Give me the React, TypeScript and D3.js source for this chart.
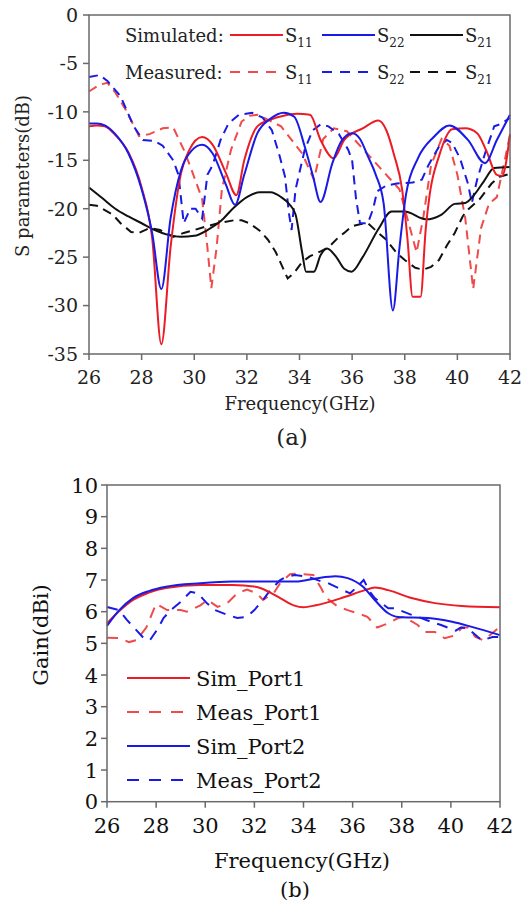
import React from "react";
import * as d3 from "d3";

type P = [number, number];

const freqTicks = [26, 28, 30, 32, 34, 36, 38, 40, 42];
const sParamTicks = [0, -5, -10, -15, -20, -25, -30, -35];
const gainTicks = [0, 1, 2, 3, 4, 5, 6, 7, 8, 9, 10];

// (a) S parameters, [GHz, dB]
const simS11: P[] = [
  [26, -11.5], [26.3, -11.4], [26.6, -11.5], [27.0, -12.4], [27.5, -14.2], [28.0, -17.8], [28.4, -23],
  [28.75, -34], [29.1, -24], [29.5, -16.3], [29.8, -14], [30.3, -12.6], [30.7, -13.4], [31.2, -16.3],
  [31.6, -18.6], [31.9, -15], [32.4, -11.5], [32.9, -10.8], [33.4, -10.4], [33.9, -10.2], [34.4, -10.3],
  [34.8, -12.9], [35.3, -14.8], [35.7, -12.9], [36.4, -11.7], [37.0, -10.9], [37.3, -11.9], [37.6, -14.5],
  [37.9, -18], [38.1, -23], [38.3, -29.1], [38.6, -29.1], [38.8, -22], [38.95, -18.5], [39.3, -14.6],
  [39.8, -11.8], [40.3, -11.7], [40.75, -12.2], [41.1, -14], [41.5, -16.5], [41.7, -16.6], [42, -12.3],
];
const simS22: P[] = [
  [26, -11.2], [26.3, -11.2], [26.6, -11.4], [27.0, -12.3], [27.5, -14.3], [28.0, -18], [28.4, -22.5],
  [28.75, -28.3], [29.1, -21], [29.5, -16], [29.9, -14], [30.3, -13.4], [30.7, -14.3], [31.2, -17.5],
  [31.55, -19.6], [31.9, -16.5], [32.4, -12.2], [32.9, -10.7], [33.4, -10.1], [33.8, -10.5], [34.2, -13.6],
  [34.5, -16.5], [34.8, -19.3], [35.25, -15.3], [35.6, -13], [36.0, -12.2], [36.3, -12.8], [36.6, -14.6],
  [36.9, -16.5], [37.2, -19.5], [37.55, -30.5], [37.8, -24], [38.05, -18.5], [38.5, -14.8], [39.1, -12.6],
  [39.7, -11.4], [40.4, -12.9], [41.05, -15.3], [41.5, -12.9], [42, -10.3],
];
const simS21: P[] = [
  [26, -17.8], [26.5, -18.9], [27, -20], [27.5, -20.8], [28, -21.5], [28.5, -22.2], [29, -22.7],
  [29.5, -22.9], [30, -22.8], [30.5, -22.2], [31, -21.3], [31.5, -19.9], [32, -18.8], [32.5, -18.3],
  [32.9, -18.3], [33.3, -18.8], [33.6, -19.5], [33.85, -20.6], [34.1, -24.5], [34.25, -26.5], [34.55, -26.5],
  [34.8, -24.8], [35.05, -24.1], [35.4, -25], [35.7, -26.2], [35.98, -26.5], [36.4, -25], [37.0, -22.1],
  [37.5, -20.3], [38.0, -20.3], [38.8, -21.1], [39.4, -20.6], [39.9, -19.5], [40.3, -19.4], [40.6, -18.7],
  [41.0, -17.2], [41.4, -15.8], [42, -15.7],
];
const measS11: P[] = [
  [26, -7.9], [26.4, -7.2], [26.7, -7], [27.0, -8], [27.4, -9.8], [27.9, -12.5], [28.3, -12.3],
  [28.8, -11.7], [29.2, -11.6], [29.6, -13.9], [29.9, -16], [30.3, -19], [30.5, -24], [30.65, -28.2],
  [30.85, -24], [31.05, -18], [31.4, -13.9], [31.8, -11], [32.1, -10.4], [32.4, -10.3], [32.8, -10.8],
  [33.3, -11.5], [33.7, -12.9], [34.1, -14.3], [34.55, -17], [34.9, -12.8], [35.3, -11.7], [35.8, -12],
  [36.4, -13.8], [36.9, -15.3], [37.4, -16.8], [37.8, -18], [38.1, -21], [38.45, -24.5], [38.7, -21],
  [39.0, -15.5], [39.4, -12.8], [39.7, -13.5], [40.0, -16.5], [40.3, -21], [40.6, -28.3], [40.9, -22],
  [41.2, -19.5], [41.5, -18.8], [41.8, -15], [42, -12.4],
];
const measS22: P[] = [
  [26, -6.4], [26.4, -6.2], [26.7, -6.8], [27.2, -8.4], [27.7, -11.5], [28.05, -12.9], [28.5, -13],
  [28.8, -13.5], [29.2, -15], [29.4, -16.5], [29.6, -21.5], [29.85, -20], [30.05, -20], [30.3, -21],
  [30.5, -16.5], [30.7, -15.5], [31.0, -12.9], [31.3, -11.2], [31.7, -10.3], [32.2, -10.1], [32.6, -10.6],
  [32.95, -11.9], [33.25, -14.6], [33.45, -16.7], [33.6, -20.5], [33.7, -22.2], [33.85, -18], [34.2, -13.9],
  [34.5, -11.9], [34.8, -11.3], [35.1, -11.5], [35.5, -12.3], [35.85, -13.9], [36.0, -15], [36.15, -19],
  [36.3, -21.5], [36.6, -21.5], [36.8, -20], [36.95, -18.2], [37.3, -17.6], [37.7, -17.4], [38.3, -17.3],
  [38.65, -17], [38.9, -15.5], [39.3, -13.6], [39.6, -12.9], [39.8, -13.2], [40.1, -14.8], [40.4, -17.4],
  [40.55, -19.4], [40.75, -17], [41.05, -14.3], [41.4, -11.5], [41.7, -11.2], [42, -10.6],
];
const measS21: P[] = [
  [26, -19.6], [26.3, -19.7], [26.9, -20.6], [27.2, -21.5], [27.6, -22.4], [27.9, -22.5], [28.3, -22],
  [28.7, -22.2], [29.0, -22.6], [29.2, -22.9], [29.6, -22.5], [30.0, -22.2], [30.5, -21.8], [30.9, -21.5],
  [31.5, -21.2], [31.8, -21.2], [32.1, -21.5], [32.5, -22.3], [32.8, -23.2], [33.1, -24.5], [33.3, -25.7],
  [33.55, -27.2], [33.8, -26.6], [34.1, -25.5], [34.4, -24.9], [34.8, -24.4], [35.1, -24], [35.5, -22.9],
  [35.7, -22.5], [36.0, -21.8], [36.3, -21.6], [36.6, -21.5], [37.0, -22.5], [37.3, -23.2], [37.7, -24.6],
  [38.0, -25.3], [38.4, -26.1], [38.7, -26.3], [39.0, -26], [39.3, -25.3], [39.6, -23.8], [39.9, -22.5],
  [40.2, -20.8], [40.4, -20.1], [40.85, -19], [41.3, -17.4], [41.6, -16.7], [42, -16.4],
];

// (b) Gain, [GHz, dBi]
const simPort1: P[] = [
  [26, 5.63], [26.5, 6.02], [27.06, 6.37], [27.7, 6.6], [28.4, 6.75], [29.8, 6.84], [31.1, 6.84],
  [32.1, 6.78], [32.6, 6.62], [33.05, 6.43], [33.6, 6.2], [34.0, 6.14], [34.5, 6.2], [35.7, 6.47],
  [36.5, 6.68], [36.9, 6.76], [37.45, 6.68], [38.4, 6.43], [39.35, 6.27], [40.45, 6.18], [42, 6.14],
];
const measPort1: P[] = [
  [26, 5.18], [26.5, 5.17], [26.9, 5.04], [27.2, 5.1], [27.6, 5.5], [28.0, 6.25], [28.45, 6.05],
  [29.0, 6.05], [29.25, 6.0], [29.8, 6.2], [30.1, 6.37], [30.5, 6.15], [30.9, 6.27], [31.3, 6.58],
  [31.7, 6.7], [32.1, 6.58], [32.35, 6.37], [32.8, 6.6], [33.05, 6.9], [33.45, 7.18], [33.7, 7.2],
  [34.4, 7.16], [34.75, 6.7], [34.9, 6.45], [35.4, 6.16], [35.8, 6.05], [36.2, 5.95], [36.6, 5.84],
  [37.0, 5.5], [37.45, 5.63], [37.85, 5.8], [38.1, 5.84], [38.65, 5.58], [38.95, 5.36], [39.35, 5.36],
  [39.75, 5.16], [40.2, 5.26], [40.45, 5.5], [40.7, 5.5], [41.0, 5.2], [41.3, 5.1], [41.5, 5.2], [42, 5.53],
];
const simPort2: P[] = [
  [26, 5.55], [26.5, 6.05], [27.06, 6.43], [27.7, 6.65], [28.4, 6.79], [29.8, 6.9], [31.1, 6.95],
  [32.5, 6.95], [33.7, 6.95], [34.5, 7.05], [35.3, 7.12], [35.8, 7.06], [36.4, 6.8], [36.9, 6.37],
  [37.45, 5.95], [37.85, 5.83], [39.07, 5.8], [40.05, 5.68], [40.85, 5.52], [42, 5.26],
];
const measPort2: P[] = [
  [26, 6.15], [26.5, 6.05], [26.8, 5.75], [27.06, 5.53], [27.5, 5.16], [27.75, 5.1], [28.1, 5.5],
  [28.3, 5.8], [28.6, 6.05], [29.0, 6.31], [29.4, 6.63], [29.7, 6.58], [30.06, 6.27], [30.4, 6.05],
  [30.9, 5.9], [31.3, 5.8], [31.7, 5.84], [32.0, 6.05], [32.35, 6.37], [32.6, 6.63], [33.05, 7.0],
  [33.3, 7.1], [33.65, 7.16], [34.2, 7.1], [34.75, 6.95], [35.0, 6.9], [35.6, 6.68], [35.9, 6.58],
  [36.2, 6.8], [36.45, 7.0], [36.7, 6.63], [36.9, 6.43], [37.45, 6.11], [37.7, 6.11], [38.4, 5.9],
  [38.65, 5.84], [39.2, 5.68], [39.6, 5.58], [40.2, 5.4], [40.4, 5.5], [40.7, 5.47], [41.1, 5.2],
  [41.27, 5.1], [41.7, 5.2], [42, 5.2],
];

const RED = "#ec1c24";
const RED_D = "#f04a4a";
const BLUE = "#1a1ae6";
const BLACK = "#111111";
const AXIS = "#6a6a6a";
const FONT = "DejaVu Serif";

const topLegendSubs = ["11", "22", "21"];
const topLegendColors = [RED, BLUE, BLACK];
const topLegendDashColors = [RED_D, BLUE, BLACK];
const gainLegendLabels = ["Sim_Port1", "Meas_Port1", "Sim_Port2", "Meas_Port2"];

export default function App() {
  const W = 524;
  const H = 910;

  // Panel (a)
  const xA = d3.scaleLinear().domain([26, 42]).range([89, 510]);
  const yA = d3.scaleLinear().domain([-35, 0]).range([354, 15]);
  const lineA = d3
    .line<P>()
    .x((d) => xA(d[0]))
    .y((d) => yA(d[1]))
    .curve(d3.curveMonotoneX);
  const lineAL = d3
    .line<P>()
    .x((d) => xA(d[0]))
    .y((d) => yA(d[1]))
    .curve(d3.curveLinear);

  // Panel (b)
  const xB = d3.scaleLinear().domain([26, 42]).range([107, 500]);
  const yB = d3.scaleLinear().domain([0, 10]).range([801.7, 485]);
  const lineB = d3
    .line<P>()
    .x((d) => xB(d[0]))
    .y((d) => yB(d[1]))
    .curve(d3.curveMonotoneX);
  const lineBL = d3
    .line<P>()
    .x((d) => xB(d[0]))
    .y((d) => yB(d[1]))
    .curve(d3.curveLinear);

  const [ax0, ax1] = xA.range();
  const [ay0, ay1] = [yA(0), yA(-35)];
  const [bx0, bx1] = xB.range();
  const [by0, by1] = [yB(10), yB(0)];

  const dashA = "9,6";
  const dashB = "11,8";

  // top legend geometry
  const legX = [230, 322, 410];
  const legLen = 53;

  return (
    <svg
      width={W}
      height={H}
      viewBox={`0 0 ${W} ${H}`}
      style={{ position: "absolute", left: 0, top: 0, background: "#fff" }}
      fontFamily={FONT}
    >
      <rect x={0} y={0} width={W} height={H} fill="#fff" />

      {/* ===== Panel (a) ===== */}
      <g>
        {/* data */}
        <path d={lineAL(measS21) || ""} fill="none" stroke={BLACK} strokeWidth={2} strokeDasharray={dashA} />
        <path d={lineAL(measS11) || ""} fill="none" stroke={RED_D} strokeWidth={2} strokeDasharray={dashA} />
        <path d={lineAL(measS22) || ""} fill="none" stroke={BLUE} strokeWidth={2} strokeDasharray={dashA} />
        <path d={lineA(simS21) || ""} fill="none" stroke={BLACK} strokeWidth={2} />
        <path d={lineA(simS11) || ""} fill="none" stroke={RED} strokeWidth={2} />
        <path d={lineA(simS22) || ""} fill="none" stroke={BLUE} strokeWidth={2} />

        {/* frame */}
        <rect x={ax0} y={ay0} width={ax1 - ax0} height={ay1 - ay0} fill="none" stroke={AXIS} strokeWidth={1.5} />
        {sParamTicks.map((t) => (
          <g key={`ya${t}`}>
            <line x1={ax0 - 6} x2={ax0} y1={yA(t)} y2={yA(t)} stroke={AXIS} strokeWidth={1.5} />
            <text x={ax0 - 11} y={yA(t)} dy="0.36em" textAnchor="end" fontSize={19} fill="#222">
              {t}
            </text>
          </g>
        ))}
        {freqTicks.map((t) => (
          <g key={`xa${t}`}>
            <line x1={xA(t)} x2={xA(t)} y1={ay1} y2={ay1 + 6} stroke={AXIS} strokeWidth={1.5} />
            <text x={xA(t)} y={384} textAnchor="middle" fontSize={19} fill="#222">
              {t}
            </text>
          </g>
        ))}
        <text x={300} y={410} textAnchor="middle" fontSize={18} fill="#222">
          Frequency(GHz)
        </text>
        <text x={292} y={445} textAnchor="middle" fontSize={23} fill="#222">
          (a)
        </text>
        <text transform="translate(29,176) rotate(-90)" textAnchor="middle" fontSize={18} fill="#222">
          S parameters(dB)
        </text>

        {/* legend */}
        <text x={125} y={42} fontSize={18} fill="#222">Simulated:</text>
        <text x={125} y={79} fontSize={18} fill="#222">Measured:</text>
        {topLegendSubs.map((s, i) => (
          <g key={`leg${s}`}>
            <line x1={legX[i]} x2={legX[i] + legLen} y1={35} y2={35} stroke={topLegendColors[i]} strokeWidth={2} />
            <line
              x1={legX[i]}
              x2={legX[i] + legLen}
              y1={72}
              y2={72}
              stroke={topLegendDashColors[i]}
              strokeWidth={2}
              strokeDasharray="10,8"
            />
            <text x={legX[i] + legLen + 2} y={42} fontSize={18} fill="#222">
              S<tspan fontSize={12} dy={5}>{s}</tspan>
            </text>
            <text x={legX[i] + legLen + 2} y={79} fontSize={18} fill="#222">
              S<tspan fontSize={12} dy={5}>{s}</tspan>
            </text>
          </g>
        ))}
      </g>

      {/* ===== Panel (b) ===== */}
      <g>
        <path d={lineBL(measPort1) || ""} fill="none" stroke={RED_D} strokeWidth={2} strokeDasharray={dashB} />
        <path d={lineBL(measPort2) || ""} fill="none" stroke={BLUE} strokeWidth={2} strokeDasharray={dashB} />
        <path d={lineB(simPort1) || ""} fill="none" stroke={RED} strokeWidth={2} />
        <path d={lineB(simPort2) || ""} fill="none" stroke={BLUE} strokeWidth={2} />

        <rect x={bx0} y={by0} width={bx1 - bx0} height={by1 - by0} fill="none" stroke={AXIS} strokeWidth={1.5} />
        {gainTicks.map((t) => (
          <g key={`yb${t}`}>
            <line x1={bx0 - 6} x2={bx0} y1={yB(t)} y2={yB(t)} stroke={AXIS} strokeWidth={1.5} />
            <text x={bx0 - 9} y={yB(t)} dy="0.36em" textAnchor="end" fontSize={21} fill="#111">
              {t}
            </text>
          </g>
        ))}
        {freqTicks.map((t) => (
          <g key={`xb${t}`}>
            <line x1={xB(t)} x2={xB(t)} y1={by1} y2={by1 + 6} stroke={AXIS} strokeWidth={1.5} />
            <text x={xB(t)} y={833} textAnchor="middle" fontSize={21} fill="#111">
              {t}
            </text>
          </g>
        ))}
        <text x={302} y={868} textAnchor="middle" fontSize={21} fill="#111">
          Frequency(GHz)
        </text>
        <text x={295} y={897} textAnchor="middle" fontSize={21} fill="#111">
          (b)
        </text>
        <text transform="translate(48,635) rotate(-90)" textAnchor="middle" fontSize={21} fill="#111">
          Gain(dBi)
        </text>

        {gainLegendLabels.map((lab, i) => {
          const y = 678 + i * 34;
          const isP1 = i < 2;
          const dashed = i % 2 === 1;
          return (
            <g key={lab}>
              <line
                x1={127}
                x2={190}
                y1={y}
                y2={y}
                stroke={isP1 ? (dashed ? RED_D : RED) : BLUE}
                strokeWidth={2}
                strokeDasharray={dashed ? "12,10" : undefined}
              />
              <text x={196} y={y} dy="0.36em" fontSize={21} fill="#111">
                {lab}
              </text>
            </g>
          );
        })}
      </g>
    </svg>
  );
}
